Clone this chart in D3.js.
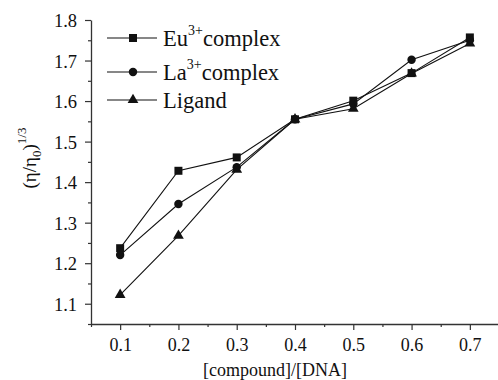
<!DOCTYPE html>
<html>
<head>
<meta charset="utf-8">
<script src="https://cdn.jsdelivr.net/npm/d3@7"></script>
<style>
  html, body { margin: 0; padding: 0; background: #fff; }
  svg { display: block; }
  text { font-family: "Liberation Serif", "Times New Roman", serif; fill: #111; }
</style>
</head>
<body>
<svg id="chart" width="498" height="380"></svg>
<script>
// Relative viscosity of DNA vs. compound ratio
const ratios = [0.1, 0.2, 0.3, 0.4, 0.5, 0.6, 0.7];
const euComplex = [1.237, 1.428, 1.461, 1.555, 1.601, 1.669, 1.757];
const laComplex = [1.220, 1.346, 1.437, 1.555, 1.593, 1.702, 1.750];
const ligand    = [1.122, 1.268, 1.431, 1.555, 1.581, 1.668, 1.742];
const xTicks = [0.1, 0.2, 0.3, 0.4, 0.5, 0.6, 0.7];
const yTicks = [1.1, 1.2, 1.3, 1.4, 1.5, 1.6, 1.7, 1.8];

const series = [
  { name: "Eu", sup: "3+", rest: "complex", values: euComplex, symbol: d3.symbolSquare, size: 64 },
  { name: "La", sup: "3+", rest: "complex", values: laComplex, symbol: d3.symbolCircle, size: 56 },
  { name: "Ligand", sup: "", rest: "", values: ligand, symbol: d3.symbolTriangle, size: 50 }
];

const svg = d3.select("#chart");
const x = d3.scaleLinear().domain([0.05, 0.75]).range([91, 499]);
const y = d3.scaleLinear().domain([1.05, 1.8]).range([324, 20]);

// Axes with major and minor ticks
const xMinor = d3.range(0.05, 0.751, 0.05).filter(v => !xTicks.some(t => Math.abs(t - v) < 1e-6));
const yMinor = d3.range(1.05, 1.801, 0.1).map(v => +v.toFixed(2));

const gx = svg.append("g").attr("transform", "translate(0,324)");
gx.call(d3.axisBottom(x).tickValues(xTicks).tickFormat(d3.format(".1f")).tickSize(6).tickSizeOuter(0));
gx.append("g").call(d3.axisBottom(x).tickValues(xMinor).tickFormat("").tickSize(3).tickSizeOuter(0))
  .select(".domain").remove();

const gy = svg.append("g").attr("transform", "translate(91,0)");
gy.call(d3.axisLeft(y).tickValues(yTicks).tickFormat(d3.format(".1f")).tickSize(6).tickSizeOuter(0));
gy.append("g").call(d3.axisLeft(y).tickValues(yMinor).tickFormat("").tickSize(3).tickSizeOuter(0))
  .select(".domain").remove();

svg.selectAll(".domain").attr("stroke", "#333").attr("stroke-width", 1.3);
svg.selectAll(".tick line").attr("stroke", "#333").attr("stroke-width", 1.2);
gx.selectAll(".tick text").attr("font-size", 18).attr("dy", "1.0em")
  .attr("font-family", "Liberation Serif").attr("fill", "#222");
gy.selectAll(".tick text").attr("font-size", 18.5).attr("x", -14).attr("dy", "0.35em")
  .attr("font-family", "Liberation Serif").attr("fill", "#222");

// Axis titles
svg.append("text").attr("x", 275).attr("y", 376).attr("text-anchor", "middle")
  .attr("font-size", 18).text("[compound]/[DNA]");

const yl = svg.append("text").attr("transform", "translate(36,158) rotate(-90)")
  .attr("text-anchor", "middle").attr("font-size", 19);
yl.append("tspan").text("(η/η");
yl.append("tspan").attr("font-size", 13).attr("dy", 5).text("0");
yl.append("tspan").attr("dy", -5).text(")");
yl.append("tspan").attr("font-size", 13).attr("dy", -10).text("1/3");

// Lines and markers
const line = d3.line().x((d, i) => x(ratios[i])).y(d => y(d));
series.forEach(s => {
  svg.append("path").datum(s.values).attr("d", line)
    .attr("fill", "none").attr("stroke", "#111").attr("stroke-width", 1.1);
  svg.append("g").selectAll("path").data(s.values).join("path")
    .attr("transform", (d, i) => `translate(${x(ratios[i])},${y(d)})`)
    .attr("d", d3.symbol().type(s.symbol).size(s.size))
    .attr("fill", "#111");
});

// Legend
const legRows = [38, 72, 100];
series.forEach((s, i) => {
  const g = svg.append("g").attr("transform", `translate(0,${legRows[i]})`);
  g.append("line").attr("x1", 107).attr("x2", 157).attr("y1", 0).attr("y2", 0)
    .attr("stroke", "#111").attr("stroke-width", 1.1);
  g.append("path").attr("transform", "translate(133,0)")
    .attr("d", d3.symbol().type(s.symbol).size(s.size)).attr("fill", "#111");
  const t = g.append("text").attr("x", 163).attr("y", 8).attr("font-size", 22.5);
  t.append("tspan").text(s.name);
  if (s.sup) {
    t.append("tspan").attr("font-size", 14).attr("dy", -11).text(s.sup);
    t.append("tspan").attr("dy", 11).text(s.rest);
  }
});
</script>
</body>
</html>
